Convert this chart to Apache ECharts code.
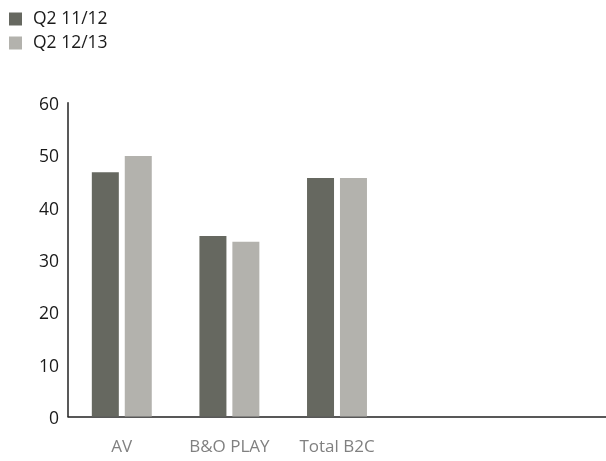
<!DOCTYPE html>
<html>
<head>
<meta charset="utf-8">
<script src="https://cdn.jsdelivr.net/npm/echarts@6/dist/echarts.min.js"></script>
<style>
  html, body { margin: 0; padding: 0; background: #fff; }
  #chart { width: 606px; height: 461px; }
</style>
</head>
<body>
<div id="chart"></div>
<script>
// Segments (two trailing empty slots keep the axis running to the right edge)
const categories = ['AV', 'B&O PLAY', 'Total B2C', '', ''];
const seriesNames = ['Q2 11/12', 'Q2 12/13'];
const q2_1112 = [46.7, 34.5, 45.6, null, null];
const q2_1213 = [49.8, 33.4, 45.6, null, null];
const yTicks = [0, 10, 20, 30, 40, 50, 60];

const colors = ['#666860', '#b3b2ad'];
const font = '"Open Sans", "Noto Sans", sans-serif';

const chart = echarts.init(document.getElementById('chart'), null, { renderer: 'canvas' });
chart.setOption({
  animation: false,
  color: colors,
  legend: {
    orient: 'vertical',
    left: 4,
    top: 5,
    itemWidth: 13,
    itemHeight: 13,
    itemGap: 6,
    icon: 'rect',
    textStyle: { fontFamily: font, fontSize: 17.5, color: '#1a1a1a', padding: [0, 0, 0, 6] },
    data: seriesNames
  },
  // the plot runs a little past the right edge of the page
  grid: { left: 68, right: -4, top: 102.7, bottom: 44.5, containLabel: false },
  xAxis: {
    type: 'category',
    data: categories,
    axisLine: { lineStyle: { color: '#222', width: 1.5 } },
    axisTick: { show: false },
    axisLabel: { fontFamily: font, fontSize: 17, color: '#808080', margin: 22 }
  },
  yAxis: {
    type: 'value',
    min: yTicks[0],
    max: yTicks[yTicks.length - 1],
    interval: yTicks[1] - yTicks[0],
    axisLine: { show: true, lineStyle: { color: '#222', width: 1.5 } },
    axisTick: { show: false },
    splitLine: { show: false },
    // labels sit slightly below their tick values
    axisLabel: { fontFamily: font, fontSize: 17.5, color: '#1a1a1a', margin: 9, verticalAlign: 'top', lineHeight: 5 }
  },
  series: [
    { name: seriesNames[0], type: 'bar', data: q2_1112, barWidth: 27, barGap: '22%' },
    { name: seriesNames[1], type: 'bar', data: q2_1213, barWidth: 27, barGap: '22%' }
  ]
});
</script>
</body>
</html>
